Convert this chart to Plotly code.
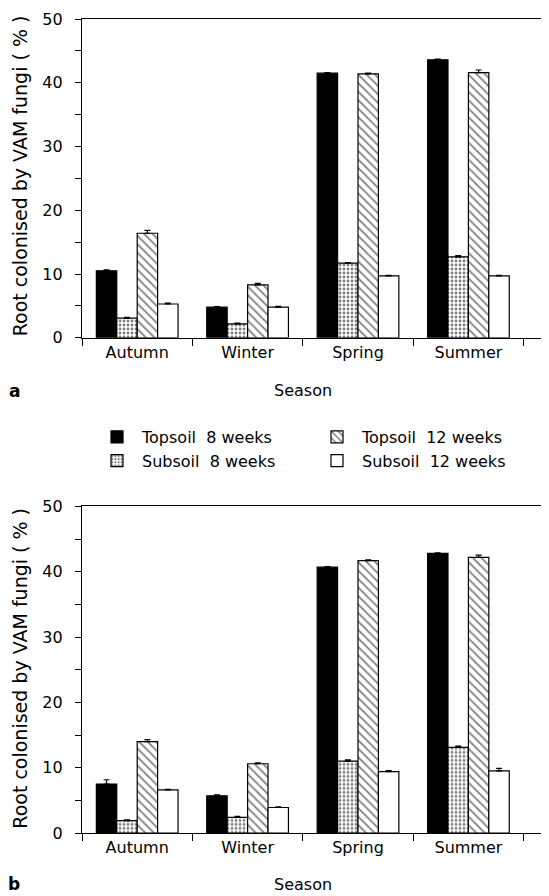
import plotly.graph_objects as go
from plotly.subplots import make_subplots

seasons = ["Autumn", "Winter", "Spring", "Summer"]
series_names = ["Topsoil  8 weeks", "Subsoil  8 weeks", "Topsoil  12 weeks", "Subsoil  12 weeks"]

# Panel a values (%)
a_top8 = [10.5, 4.8, 41.5, 43.6]
a_sub8 = [3.1, 2.2, 11.7, 12.7]
a_top12 = [16.4, 8.3, 41.4, 41.6]
a_sub12 = [5.3, 4.8, 9.7, 9.7]
a_top8_err = [0.15, 0.1, 0.1, 0.1]
a_sub8_err = [0.1, 0.1, 0.1, 0.2]
a_top12_err = [0.45, 0.25, 0.1, 0.4]
a_sub12_err = [0.15, 0.15, 0.1, 0.1]

# Panel b values (%)
b_top8 = [7.5, 5.7, 40.7, 42.8]
b_sub8 = [1.9, 2.4, 11.0, 13.1]
b_top12 = [14.0, 10.6, 41.7, 42.2]
b_sub12 = [6.6, 3.9, 9.4, 9.5]
b_top8_err = [0.65, 0.15, 0.1, 0.1]
b_sub8_err = [0.1, 0.15, 0.2, 0.2]
b_top12_err = [0.3, 0.15, 0.1, 0.35]
b_sub12_err = [0.1, 0.1, 0.15, 0.4]

FONT = "DejaVu Sans"

styles = [
    dict(marker_color="black", pattern=None),
    dict(marker_color="white", pattern=dict(shape=".", size=4, solidity=0.4, fgcolor="black", bgcolor="white")),
    dict(marker_color="white", pattern=dict(shape="\\", size=6, solidity=0.3, fgcolor="black", bgcolor="white")),
    dict(marker_color="white", pattern=None),
]
legend_ids = ["legend", "legend", "legend2", "legend2"]

fig = make_subplots(rows=2, cols=1, vertical_spacing=0.0)

panels = [
    (1, [a_top8, a_sub8, a_top12, a_sub12], [a_top8_err, a_sub8_err, a_top12_err, a_sub12_err]),
    (2, [b_top8, b_sub8, b_top12, b_sub12], [b_top8_err, b_sub8_err, b_top12_err, b_sub12_err]),
]

for row, vals, errs in panels:
    for i, (name, v, e) in enumerate(zip(series_names, vals, errs)):
        st = styles[i]
        marker = dict(color=st["marker_color"], line=dict(color="black", width=1.2))
        if st["pattern"] is not None:
            marker["pattern"] = st["pattern"]
        fig.add_trace(
            go.Bar(
                x=seasons, y=v, name=name, marker=marker,
                error_y=dict(type="data", array=e, arrayminus=[0] * len(e), symmetric=False,
                             color="black", thickness=1.2, width=3),
                showlegend=(row == 1), legend=legend_ids[i],
            ),
            row=row, col=1,
        )

# The page body has an 8px margin, so the figure is drawn offset by (8, 8).
OFF = 8
W, H = 549 - OFF, 896 - OFF
TOP = 18.5
ml, mr, mt, mb = 82 - OFF, 0, TOP - OFF, H - (833.5 - OFF)
pw = W - ml - mr
ph = H - mt - mb


def py(P):
    return (H - mb - (P - OFF)) / ph


def px(P):
    return (P - OFF - ml) / pw


axis_common_x = dict(
    type="category", range=[-0.5, 3.73], tickson="boundaries", ticks="outside", ticklen=7,
    tickwidth=1.2, tickcolor="black", showline=True, linecolor="black", linewidth=1.3,
    mirror=True, showgrid=False, zeroline=False, automargin=False,
    tickfont=dict(family=FONT, size=16, color="black"),
)
axis_common_y = dict(
    range=[0, 50], dtick=10, tick0=0, ticks="outside", ticklen=6, tickwidth=1.2,
    tickcolor="black", showline=True, linecolor="black", linewidth=1.3, showgrid=False,
    zeroline=False, automargin=False, tickfont=dict(family=FONT, size=16, color="black"),
    ticklabeloverflow="allow", ticklabelstandoff=9,
    minor=dict(dtick=5, ticks="outside", ticklen=6, tickcolor="black", tickwidth=1.2, showgrid=False),
)

legend_common = dict(
    orientation="v", xanchor="left", yanchor="top", traceorder="normal",
    font=dict(family=FONT, size=16, color="black"), bgcolor="rgba(0,0,0,0)",
    itemclick=False, itemdoubleclick=False, itemwidth=40, tracegroupgap=0,
)

fig.update_layout(
    width=W, height=H,
    margin=dict(l=ml, r=mr, t=mt, b=mb, autoexpand=False),
    paper_bgcolor="white", plot_bgcolor="white",
    barmode="group", bargap=0.26, bargroupgap=0.0,
    font=dict(family=FONT, size=16, color="black"),
    xaxis=dict(domain=[0, 1], anchor="y", **axis_common_x),
    xaxis2=dict(domain=[0, 1], anchor="y2", **axis_common_x),
    yaxis=dict(domain=[py(337.7), 1.0], anchor="x", **axis_common_y),
    yaxis2=dict(domain=[0.0, py(506.5)], anchor="x2", **axis_common_y),
    legend=dict(x=px(92), y=py(420), **legend_common),
    legend2=dict(x=px(312), y=py(420), **legend_common),
    showlegend=True,
)

annotations = [
    dict(text="Season", x=px(303), y=py(390), xref="paper", yref="paper", showarrow=False,
         xanchor="center", yanchor="middle", font=dict(family=FONT, size=16)),
    dict(text="Season", x=px(303), y=py(885), xref="paper", yref="paper", showarrow=False,
         xanchor="center", yanchor="middle", font=dict(family=FONT, size=16)),
    dict(text="<b>a</b>", x=px(14), y=py(391), xref="paper", yref="paper", showarrow=False,
         xanchor="center", yanchor="middle", font=dict(family=FONT, size=17)),
    dict(text="<b>b</b>", x=px(14), y=py(885), xref="paper", yref="paper", showarrow=False,
         xanchor="center", yanchor="middle", font=dict(family=FONT, size=17)),
    dict(text="Root colonised by VAM fungi ( % )", x=px(20), y=py(176), xref="paper", yref="paper",
         showarrow=False, textangle=-90, xanchor="center", yanchor="middle",
         font=dict(family=FONT, size=19)),
    dict(text="Root colonised by VAM fungi ( % )", x=px(20), y=py(669), xref="paper", yref="paper",
         showarrow=False, textangle=-90, xanchor="center", yanchor="middle",
         font=dict(family=FONT, size=19)),
]
fig.update_layout(annotations=annotations)

fig.write_html("out.html")
